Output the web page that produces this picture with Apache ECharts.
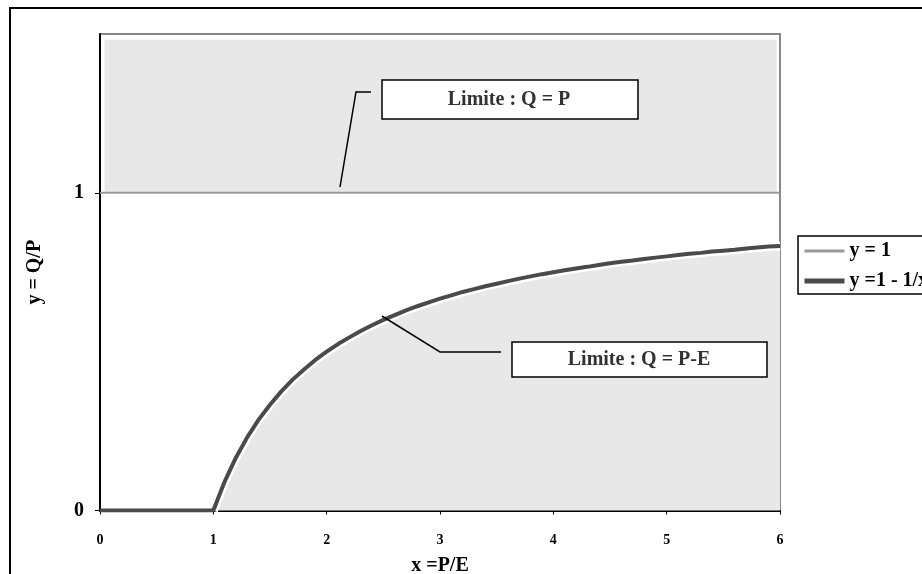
<!DOCTYPE html>
<html>
<head>
<meta charset="utf-8">
<script src="https://cdn.jsdelivr.net/npm/echarts@6/dist/echarts.min.js"></script>
<style>
  html, body { margin: 0; padding: 0; background: #fff; }
  #chart { width: 922px; height: 574px; }
</style>
</head>
<body>
<div id="chart"></div>
<script>
// x = P/E sampled values
var xVals = [0, 1, 1.1, 1.2, 1.3, 1.4, 1.5, 1.6, 1.7, 1.8, 1.9, 2, 2.1, 2.2, 2.3, 2.4, 2.5, 2.6, 2.7, 2.8, 2.9,
  3, 3.1, 3.2, 3.3, 3.4, 3.5, 3.6, 3.7, 3.8, 3.9, 4, 4.1, 4.2, 4.3, 4.4, 4.5, 4.6, 4.7, 4.8, 4.9,
  5, 5.1, 5.2, 5.3, 5.4, 5.5, 5.6, 5.7, 5.8, 5.9, 6];
// y = 1 - 1/x (0 below x = 1)
var curveY = [0, 0, 0.091, 0.167, 0.231, 0.286, 0.333, 0.375, 0.412, 0.444, 0.474, 0.5, 0.524, 0.545, 0.565, 0.583, 0.6, 0.615, 0.63, 0.643, 0.655,
  0.667, 0.677, 0.688, 0.697, 0.706, 0.714, 0.722, 0.73, 0.737, 0.744, 0.75, 0.756, 0.762, 0.767, 0.773, 0.778, 0.783, 0.787, 0.792, 0.796,
  0.8, 0.804, 0.808, 0.811, 0.815, 0.818, 0.821, 0.825, 0.828, 0.831, 0.833];
var flatX = [0, 6];
var flatY = [1, 1];
var seriesNames = ['y = 1', 'y =1 - 1/x'];
var xTicks = [0, 1, 2, 3, 4, 5, 6];
var yTicks = [0, 1];

var serif = '"Liberation Serif", "DejaVu Serif", serif';
var chart = echarts.init(document.getElementById('chart'));

var curveData = xVals.map(function (x, i) { return [x, curveY[i]]; });
var fillData = curveData.slice(1);
var flatData = flatX.map(function (x, i) { return [x, flatY[i]]; });

var option = {
  backgroundColor: '#fff',
  animation: false,
  grid: {
    left: 100, right: 142, top: 34, bottom: 63.5,
    outerBoundsMode: 'none',
    containLabel: false,
    show: true, borderColor: '#888', borderWidth: 2, backgroundColor: 'transparent'
  },
  legend: {
    orient: 'vertical',
    left: 798, top: 236,
    data: [
      { name: seriesNames[0], lineStyle: { color: '#999', width: 3 } },
      { name: seriesNames[1], lineStyle: { color: '#4a4a4a', width: 5 } }
    ],
    borderColor: '#000', borderWidth: 1.5,
    padding: [5, 30, 3, 4],
    itemWidth: 40, itemHeight: 14, itemGap: 10,
    itemStyle: { opacity: 0 },
    textStyle: { fontFamily: serif, fontWeight: 'bold', fontSize: 20, color: '#000' }
  },
  xAxis: {
    type: 'value', min: 0, max: 6, interval: 1,
    name: 'x =P/E', nameLocation: 'middle', nameGap: 45,
    nameTextStyle: { fontFamily: serif, fontWeight: 'bold', fontSize: 20, color: '#000' },
    axisLine: { show: true, onZero: false, lineStyle: { color: '#000', width: 2 } },
    axisTick: { show: true, length: 4, lineStyle: { color: '#000' } },
    axisLabel: {
      margin: 23, fontFamily: serif, fontWeight: 'bold', fontSize: 14, color: '#000',
      formatter: function (v) { return xTicks.indexOf(v) >= 0 ? String(v) : ''; }
    },
    splitLine: { show: false }
  },
  yAxis: {
    type: 'value', min: 0, max: 1.5, interval: 1,
    name: 'y = Q/P', nameLocation: 'middle', nameGap: 55,
    nameTextStyle: { fontFamily: serif, fontWeight: 'bold', fontSize: 20, color: '#000' },
    axisLine: { show: true, onZero: false, lineStyle: { color: '#000', width: 2 } },
    axisTick: { show: true, length: 5, lineStyle: { color: '#000' } },
    axisLabel: {
      margin: 16, fontFamily: serif, fontWeight: 'bold', fontSize: 20, color: '#000',
      showMaxLabel: false,
      formatter: function (v) { return yTicks.indexOf(v) >= 0 ? String(v) : ''; }
    },
    splitLine: { show: false }
  },
  series: [
    {
      name: 'fill',
      type: 'line',
      data: fillData,
      symbol: 'none',
      lineStyle: { color: '#fff', width: 9 },
      areaStyle: { color: '#e8e8e8', opacity: 1 },
      z: 1,
      silent: true
    },
    {
      name: seriesNames[0],
      type: 'line',
      data: flatData,
      symbol: 'none',
      lineStyle: { color: '#999', width: 2 },
      itemStyle: { color: '#999' },
      z: 3,
      markArea: {
        silent: true,
        itemStyle: { color: '#e8e8e8' },
        data: [[{ coord: [0.04, 1.482] }, { coord: [5.97, 1] }]]
      }
    },
    {
      name: seriesNames[1],
      type: 'line',
      data: curveData,
      symbol: 'none',
      lineStyle: { color: '#4a4a4a', width: 4 },
      itemStyle: { color: '#4a4a4a' },
      z: 4
    }
  ],
  graphic: [
    // outer chart frame
    { type: 'rect', shape: { x: 10, y: 8, width: 1000, height: 1000 },
      style: { fill: 'none', stroke: '#000', lineWidth: 2 }, z: 100 },
    // annotation: Q = P
    { type: 'polyline', shape: { points: [[340, 187], [356, 92], [371, 92]] },
      style: { fill: 'none', stroke: '#000', lineWidth: 1.5 }, z: 100 },
    { type: 'rect', shape: { x: 382, y: 80, width: 256, height: 39 },
      style: { fill: '#fff', stroke: '#000', lineWidth: 1.5 }, z: 100 },
    { type: 'text', x: 509, y: 100,
      style: { text: 'Limite : Q = P', x: 0, y: 0, align: 'center', verticalAlign: 'middle',
        font: 'bold 20px ' + serif, fill: '#333' }, z: 101 },
    // annotation: Q = P-E
    { type: 'polyline', shape: { points: [[382, 316], [440, 352], [501, 352]] },
      style: { fill: 'none', stroke: '#000', lineWidth: 1.5 }, z: 100 },
    { type: 'rect', shape: { x: 512, y: 342, width: 255, height: 35 },
      style: { fill: '#fff', stroke: '#000', lineWidth: 1.5 }, z: 100 },
    { type: 'text', x: 639, y: 360,
      style: { text: 'Limite : Q = P-E', x: 0, y: 0, align: 'center', verticalAlign: 'middle',
        font: 'bold 20px ' + serif, fill: '#333' }, z: 101 }
  ]
};

chart.setOption(option);
</script>
</body>
</html>
